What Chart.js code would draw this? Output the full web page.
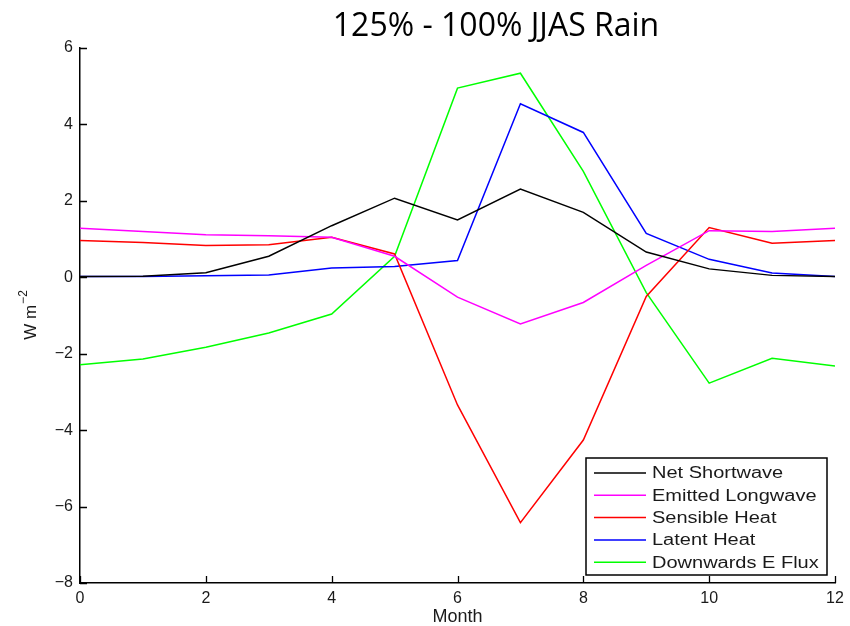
<!DOCTYPE html>
<html>
<head>
<meta charset="utf-8">
<script src="https://cdn.jsdelivr.net/npm/chart.js@4/dist/chart.umd.min.js"></script>
<style>
  html, body { margin: 0; padding: 0; background: #fff; }
</style>
</head>
<body>
<canvas id="chart" width="850" height="626"></canvas>
<script>
const months = [0, 1, 2, 3, 4, 5, 6, 7, 8, 9, 10, 11, 12];
const netShortwave   = [0.02, 0.03, 0.12, 0.55, 1.35, 2.07, 1.50, 2.31, 1.70, 0.66, 0.22, 0.05, 0.02];
const emittedLongwave = [1.28, 1.20, 1.11, 1.09, 1.05, 0.55, -0.52, -1.22, -0.66, 0.31, 1.22, 1.20, 1.28];
const sensibleHeat   = [0.96, 0.91, 0.83, 0.85, 1.05, 0.61, -3.34, -6.42, -4.26, -0.50, 1.30, 0.89, 0.96];
const latentHeat     = [0.02, 0.02, 0.04, 0.06, 0.24, 0.28, 0.44, 4.54, 3.79, 1.15, 0.47, 0.11, 0.02];
const downwardsFlux  = [-2.29, -2.14, -1.83, -1.46, -0.96, 0.55, 4.95, 5.34, 2.77, -0.40, -2.77, -2.12, -2.32];

const seriesNames = ['Net Shortwave', 'Emitted Longwave', 'Sensible Heat', 'Latent Heat', 'Downwards E Flux'];
const seriesColors = ['#000000', '#ff00ff', '#ff0000', '#0000ff', '#00ff00'];
const seriesValues = [netShortwave, emittedLongwave, sensibleHeat, latentHeat, downwardsFlux];

const titleText = '125% - 100% JJAS Rain';
const tickFont = { family: 'Liberation Sans', size: 16 };
const textColor = '#1a1a1a';

// matlab style extras: inward ticks, axis labels, boxed legend
const extras = {
  id: 'extras',
  afterDraw(chart) {
    const ctx = chart.ctx;
    const area = chart.chartArea;
    const xs = chart.scales.x, ys = chart.scales.y;
    ctx.save();

    // inward ticks
    ctx.strokeStyle = '#000';
    ctx.lineWidth = 1.3;
    ctx.beginPath();
    xs.ticks.forEach(t => {
      const px = Math.round(xs.getPixelForValue(t.value)) + 0.5;
      ctx.moveTo(px, area.bottom);
      ctx.lineTo(px, area.bottom - 7);
    });
    ys.ticks.forEach(t => {
      const py = Math.round(ys.getPixelForValue(t.value)) + 0.5;
      ctx.moveTo(area.left, py);
      ctx.lineTo(area.left + 7, py);
    });
    ctx.stroke();

    // title
    ctx.fillStyle = '#000';
    ctx.font = '32px "Open Sans"';
    ctx.textAlign = 'center';
    ctx.textBaseline = 'alphabetic';
    ctx.fillText(titleText, 496, 36);

    // x label
    ctx.fillStyle = textColor;
    ctx.font = '18px "Liberation Sans"';
    ctx.textBaseline = 'middle';
    ctx.fillText('Month', (area.left + area.right) / 2, 617);

    // y label
    ctx.save();
    ctx.translate(36, (area.top + area.bottom) / 2);
    ctx.rotate(-Math.PI / 2);
    ctx.textAlign = 'left';
    ctx.textBaseline = 'alphabetic';
    ctx.font = '17px "Liberation Sans"';
    const w1 = ctx.measureText('W m').width;
    ctx.font = '12px "Liberation Sans"';
    const w2 = ctx.measureText('\u22122').width;
    ctx.font = '17px "Liberation Sans"';
    ctx.fillText('W m', -(w1 + w2) / 2, 0);
    ctx.font = '12px "Liberation Sans"';
    ctx.fillText('\u22122', -(w1 + w2) / 2 + w1 + 1, -9);
    ctx.restore();

    // legend
    const bx = area.right - 249, by = area.bottom - 125, bw = 241, bh = 117;
    ctx.fillStyle = '#fff';
    ctx.fillRect(bx, by, bw, bh);
    ctx.strokeStyle = '#000';
    ctx.lineWidth = 1.5;
    ctx.strokeRect(bx, by, bw, bh);
    ctx.textAlign = 'left';
    ctx.textBaseline = 'middle';
    chart.data.datasets.forEach((ds, i) => {
      const cy = by + 15 + i * 22.3;
      ctx.strokeStyle = ds.borderColor;
      ctx.lineWidth = 1.5;
      ctx.beginPath();
      ctx.moveTo(bx + 8, cy);
      ctx.lineTo(bx + 60, cy);
      ctx.stroke();
      ctx.save();
      ctx.translate(bx + 66, cy + 1);
      ctx.scale(1.25, 1);
      ctx.fillStyle = textColor;
      ctx.font = '16px "Liberation Sans"';
      ctx.fillText(ds.label, 0, 0);
      ctx.restore();
    });
    ctx.restore();
  }
};

new Chart(document.getElementById('chart'), {
  type: 'line',
  data: {
    datasets: seriesNames.map((name, i) => ({
      label: name,
      data: months.map((m, j) => ({ x: m, y: seriesValues[i][j] })),
      borderColor: seriesColors[i],
      borderWidth: 1.5,
      pointRadius: 0,
      tension: 0,
      fill: false
    }))
  },
  options: {
    responsive: false,
    animation: false,
    layout: { padding: { left: 0, top: 48, right: 15, bottom: 0 } },
    plugins: {
      legend: { display: false },
      tooltip: { enabled: false }
    },
    scales: {
      x: {
        type: 'linear',
        min: 0, max: 12,
        ticks: { stepSize: 2, padding: 6, color: textColor, font: tickFont },
        grid: { drawOnChartArea: false, drawTicks: false },
        border: { color: '#000', width: 1.5 },
        afterFit(scale) { scale.height = 43; }
      },
      y: {
        min: -8, max: 6,
        ticks: {
          stepSize: 2, padding: 7, color: textColor, font: tickFont,
          callback: v => String(v).replace('-', '\u2212')
        },
        grid: { drawOnChartArea: false, drawTicks: false },
        border: { color: '#000', width: 1.5 },
        afterFit(scale) { scale.width = 80; }
      }
    }
  },
  plugins: [extras]
});
</script>
</body>
</html>
